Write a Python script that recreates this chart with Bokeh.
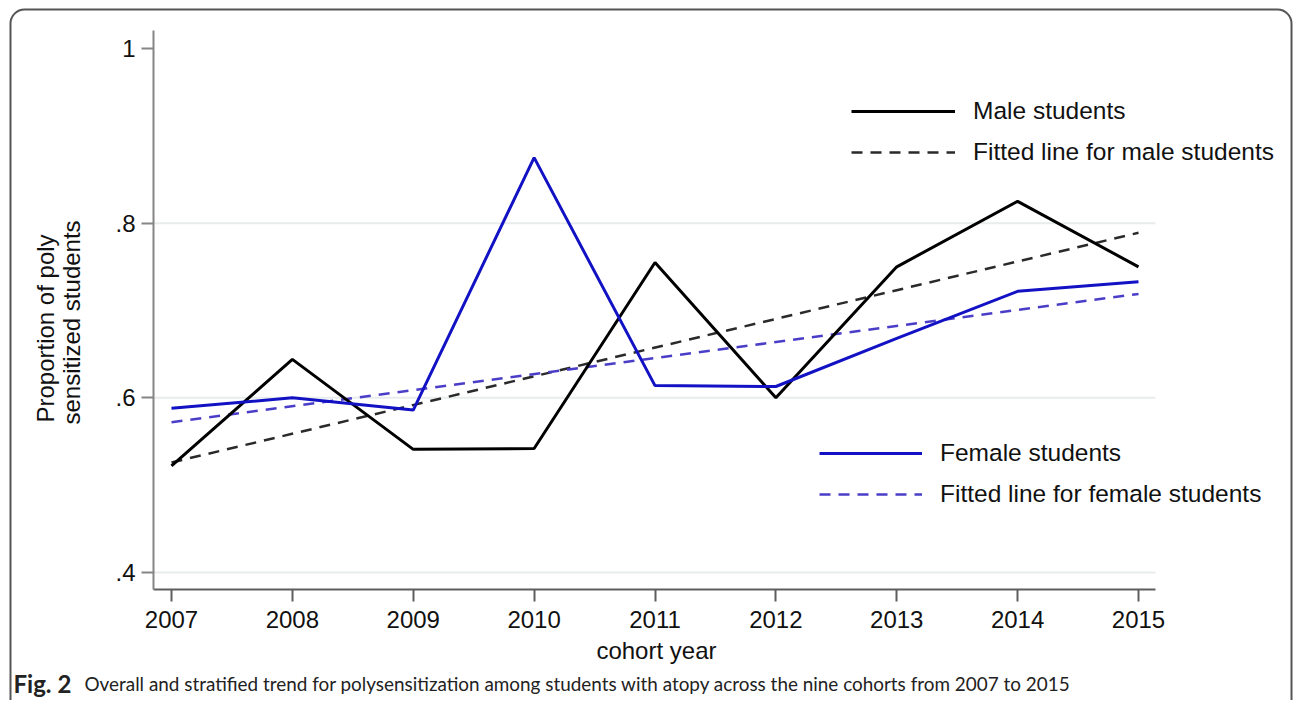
import math
from bokeh.plotting import figure
from bokeh.models import Range1d, FixedTicker, Label, Legend, LegendItem, BoxAnnotation
from bokeh.embed import file_html
from bokeh.resources import INLINE

years = [2007, 2008, 2009, 2010, 2011, 2012, 2013, 2014, 2015]
male = [0.522, 0.644, 0.541, 0.542, 0.755, 0.600, 0.750, 0.825, 0.750]
female = [0.588, 0.600, 0.586, 0.875, 0.614, 0.613, 0.668, 0.722, 0.733]
fit_years = [2007, 2015]
male_fit = [0.526, 0.789]
female_fit = [0.572, 0.719]
y_ticks = [0.4, 0.6, 0.8, 1.0]
y_tick_labels = [".4", ".6", ".8", "1"]
grid_ticks = [0.4, 0.6, 0.8]

FONT = "Liberation Sans"
TXT = "#111111"

# axis extents (plot region) and whole-canvas ranges
X_LO, X_HI = 2006.851, 2015.14
Y_LO, Y_HI = 0.3805, 1.0206

p = figure(width=1293, height=700, output_backend="svg", toolbar_location=None,
           x_range=Range1d(2005.5853, 2016.2823), y_range=Range1d(0.25344, 1.05496),
           min_border=0, min_border_left=0, min_border_right=0,
           min_border_top=0, min_border_bottom=0)
p.outline_line_color = None
p.background_fill_color = "white"
p.border_fill_color = "white"
p.xgrid.visible = False
p.ygrid.visible = False

for ax, col in ((p.xaxis[0], "#5e5e5e"), (p.yaxis[0], "#858585")):
    ax.axis_line_color = col
    ax.axis_line_width = 2
    ax.major_tick_line_color = col
    ax.major_tick_line_width = 2
    ax.major_tick_out = 12
    ax.major_tick_in = 0
    ax.minor_tick_line_color = None
    ax.major_label_text_font = FONT
    ax.major_label_text_font_size = "24px"
    ax.major_label_text_color = TXT

p.xaxis.fixed_location = Y_LO
p.xaxis.bounds = (X_LO, X_HI)
p.xaxis.ticker = FixedTicker(ticks=years)
p.xaxis.major_label_standoff = 9
p.yaxis.fixed_location = X_LO
p.yaxis.bounds = (Y_LO, Y_HI)
p.yaxis.ticker = FixedTicker(ticks=y_ticks)
p.yaxis.major_label_overrides = {t: l for t, l in zip(y_ticks, y_tick_labels)}
p.yaxis.major_label_standoff = 6

# light horizontal grid lines across the plot region
p.segment(x0=[X_LO] * len(grid_ticks), x1=[X_HI] * len(grid_ticks),
          y0=grid_ticks, y1=grid_ticks, line_color="#e9ecec", line_width=2, level="underlay")

male_fit_r = p.line(fit_years, male_fit, line_color="#2a2a2a", line_width=2.5, line_dash="11 8")
female_fit_r = p.line(fit_years, female_fit, line_color="#4a3ec8", line_width=2.5, line_dash="11 8")
male_r = p.line(years, male, line_color="#000000", line_width=3)
female_r = p.line(years, female, line_color="#1212c4", line_width=3)


def make_legend(items, loc, gw):
    return Legend(items=items, location=loc, orientation="vertical",
                  glyph_width=gw, glyph_height=30, label_height=30, spacing=11,
                  label_standoff=18, padding=0, margin=0,
                  border_line_color=None, background_fill_alpha=0,
                  label_text_font=FONT, label_text_font_size="24.5px",
                  label_text_color=TXT)


leg1 = make_legend([LegendItem(label="Male students", renderers=[male_r]),
                    LegendItem(label="Fitted line for male students", renderers=[male_fit_r])],
                   (851, 533), 104)
leg2 = make_legend([LegendItem(label="Female students", renderers=[female_r]),
                    LegendItem(label="Fitted line for female students", renderers=[female_fit_r])],
                   (819, 191), 103)
p.add_layout(leg1, "center")
p.add_layout(leg2, "center")

# axis titles
p.add_layout(Label(x=2011.012, y=0.3107, text="cohort year", text_align="center",
                   text_baseline="middle", text_font=FONT, text_font_size="24px",
                   text_color=TXT))
p.add_layout(Label(x=2005.958, y=0.6794, text="Proportion of poly", angle=math.pi / 2,
                   text_align="center", text_baseline="middle", text_font=FONT,
                   text_font_size="24px", text_color=TXT))
p.add_layout(Label(x=2006.173, y=0.6863, text="sensitized students", angle=math.pi / 2,
                   text_align="center", text_baseline="middle", text_font=FONT,
                   text_font_size="24px", text_color=TXT))

# caption
p.add_layout(Label(x=2005.693, y=0.2729, text="Fig. 2", text_align="left",
                   text_baseline="middle", text_font="Lato", text_font_style="bold",
                   text_font_size="24px", text_color="#222222"))
p.add_layout(Label(x=2006.280, y=0.2729,
                   text="Overall and stratified trend for polysensitization among students with atopy across the nine cohorts from 2007 to 2015",
                   text_align="left", text_baseline="middle", text_font="Lato",
                   text_font_size="18.9px", text_color="#222222"))

# rounded frame around the figure
try:
    border = BoxAnnotation(left=2005.668, right=2016.2658, top=1.04466, bottom=0.20,
                           fill_alpha=0, line_color="#555555", line_alpha=1.0,
                           line_width=2, border_radius=14)
except Exception:
    border = BoxAnnotation(left=2005.668, right=2016.2658, top=1.04466, bottom=0.20,
                           fill_alpha=0, line_color="#555555", line_alpha=1.0,
                           line_width=2)
p.add_layout(border)

open("out.html", "w").write(file_html(p, INLINE))
